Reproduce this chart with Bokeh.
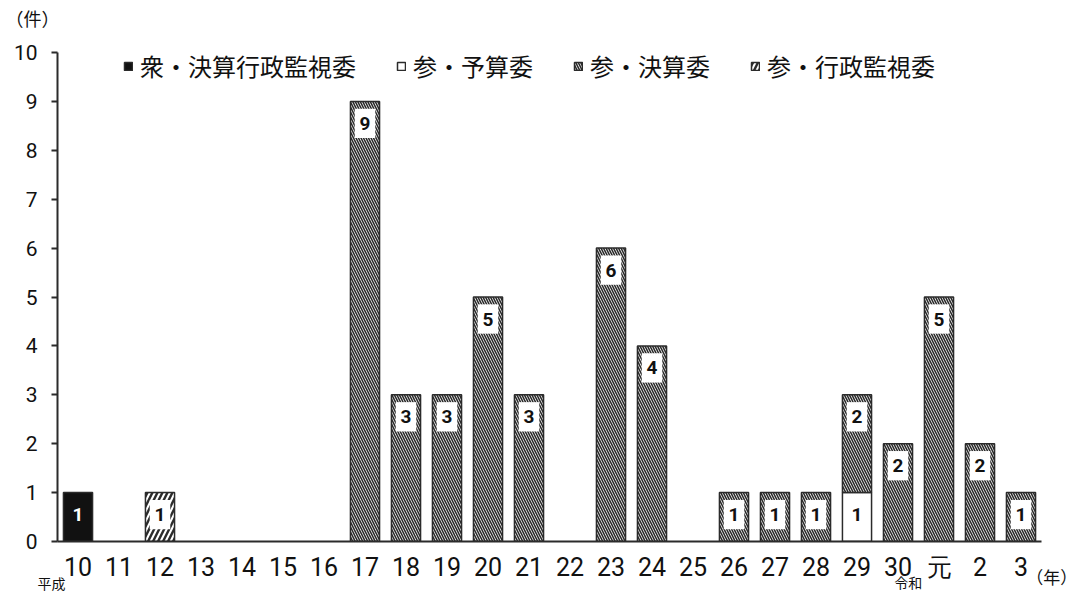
from bokeh.plotting import figure
from bokeh.models import (ColumnDataSource, Legend, LegendItem, Label, Range1d,
                          LinearAxis, FixedTicker)
from bokeh.core.properties import value
from bokeh.embed import file_html
from bokeh.resources import INLINE

# 年（平成10年～令和3年）
years = ["10", "11", "12", "13", "14", "15", "16", "17", "18", "19", "20", "21",
         "22", "23", "24", "25", "26", "27", "28", "29", "30", "元", "2", "3"]

# 件数（委員会別）
shu_kessan_gyosei = [1, 0, 0, 0, 0, 0, 0, 0, 0, 0, 0, 0, 0, 0, 0, 0, 0, 0, 0, 0, 0, 0, 0, 0]
san_yosan = [0, 0, 0, 0, 0, 0, 0, 0, 0, 0, 0, 0, 0, 0, 0, 0, 0, 0, 0, 1, 0, 0, 0, 0]
san_kessan = [0, 0, 0, 0, 0, 0, 0, 9, 3, 3, 5, 3, 0, 6, 4, 0, 1, 1, 1, 2, 2, 5, 2, 1]
san_gyosei = [0, 0, 1, 0, 0, 0, 0, 0, 0, 0, 0, 0, 0, 0, 0, 0, 0, 0, 0, 0, 0, 0, 0, 0]

series_names = ["衆・決算行政監視委", "参・予算委", "参・決算委", "参・行政監視委"]
series_values = [shu_kessan_gyosei, san_yosan, san_kessan, san_gyosei]

CJK = "Noto Sans CJK JP"
NUM = "Roboto"
INK = "#2b2b2b"

styles = [
    dict(fill_color="#111111", hatch_pattern=" ", hatch_scale=1, hatch_weight=1, boxed=False, text_color="white"),
    dict(fill_color="white", hatch_pattern=" ", hatch_scale=1, hatch_weight=1, boxed=False, text_color="#111111"),
    dict(fill_color="white", hatch_pattern="\\", hatch_scale=5, hatch_weight=1.6, boxed=True, text_color="#111111"),
    dict(fill_color="white", hatch_pattern="/", hatch_scale=10, hatch_weight=2.4, boxed=True, text_color="#111111"),
]

positions = list(range(len(years)))

p = figure(width=1070, height=594, x_range=Range1d(-0.5, len(years) - 0.5), y_range=Range1d(0, 10),
           output_backend="svg", toolbar_location=None,
           min_border_left=57, min_border_right=29, min_border_top=52, min_border_bottom=53)
p.outline_line_color = None
p.xgrid.grid_line_color = None
p.ygrid.grid_line_color = None
p.background_fill_color = "white"
p.border_fill_color = "white"

BAR_W = 0.71
bottoms = [0] * len(years)
legend_items = []
box_x, box_y = [], []
lab_x, lab_y, lab_t, lab_c = [], [], [], []

for name, vals, st in zip(series_names, series_values, styles):
    xs, bots, tops = [], [], []
    for xi, v, b in zip(positions, vals, bottoms):
        if v > 0:
            xs.append(xi)
            bots.append(b)
            tops.append(b + v)
            cy = b + v - 0.45 if v > 1 else b + 0.55
            if st["boxed"]:
                box_x.append(xi)
                box_y.append(cy)
            lab_x.append(xi)
            lab_y.append(cy)
            lab_t.append(str(v))
            lab_c.append(st["text_color"])
    src = ColumnDataSource(dict(x=xs, bottom=bots, top=tops))
    r = p.vbar(x="x", bottom="bottom", top="top", width=BAR_W, source=src,
               fill_color=st["fill_color"], line_color=INK, line_width=1.5,
               hatch_pattern=st["hatch_pattern"], hatch_color=INK,
               hatch_scale=st["hatch_scale"], hatch_weight=st["hatch_weight"])
    legend_items.append(LegendItem(label=name, renderers=[r]))
    bottoms = [b + v for b, v in zip(bottoms, vals)]

# white boxes carrying the counts on hatched bars
p.rect(x=box_x, y=box_y, width=0.5, height=0.6, fill_color="white", line_color=None)
p.text(x=lab_x, y=lab_y, text=lab_t, text_color=lab_c,
       text_align="center", text_baseline="middle",
       text_font=value(NUM), text_font_size="19px", text_font_style="bold")

# axes
p.yaxis.ticker = list(range(0, 11))
p.yaxis.axis_line_width = 2
p.yaxis.axis_line_color = INK
p.yaxis.major_tick_line_color = INK
p.yaxis.major_tick_line_width = 2
p.yaxis.major_tick_out = 6
p.yaxis.major_tick_in = 0
p.yaxis.minor_tick_line_color = None
p.yaxis.major_label_text_font = NUM
p.yaxis.major_label_text_font_size = "21px"
p.yaxis.major_label_text_color = "#111111"
p.yaxis.major_label_standoff = 14

p.xaxis.ticker = FixedTicker(ticks=positions)
p.xaxis.major_label_overrides = {i: y for i, y in zip(positions, years)}
p.xaxis.axis_line_width = 2
p.xaxis.axis_line_color = INK
p.xaxis.major_tick_line_color = None
p.xaxis.minor_tick_line_color = None
p.xaxis.major_label_text_font = NUM
p.xaxis.major_label_text_font_size = "25px"
p.xaxis.major_label_text_color = "#111111"
p.xaxis.major_label_standoff = 5

# era mark under the year axis (令和 begins after 30)
reiwa_pos = years.index("30") + 0.25
era_axis = LinearAxis(ticker=FixedTicker(ticks=[reiwa_pos]),
                      major_label_overrides={reiwa_pos: "令和"},
                      axis_line_color=None, major_tick_line_color=None,
                      minor_tick_line_color=None, major_tick_out=0, major_tick_in=0,
                      major_label_standoff=-13,
                      major_label_text_font=CJK, major_label_text_font_size="14px",
                      major_label_text_color="#111111")
p.add_layout(era_axis, "below")

legend = Legend(items=legend_items, orientation="horizontal", location=(66, 458),
                label_text_font=CJK, label_text_font_size="24px", label_text_color="#111111",
                glyph_width=10, glyph_height=10, label_standoff=7, spacing=40,
                padding=0, margin=0, border_line_alpha=0, background_fill_alpha=0)
p.add_layout(legend, "center")

# unit labels and the 平成 mark, kept in side panels so they are not clipped to the frame
notes = [
    ("（件）", -1.77, 10.70, "18px", "above"),
    ("（年）", 23.13, -0.72, "17px", "above"),
    ("平成", -0.99, -0.84, "14px", "right"),
]
for txt, x, y, size, side in notes:
    p.add_layout(Label(x=x, y=y, text=txt, text_font=CJK, text_font_size=size,
                       text_color="#111111", text_align="left", text_baseline="middle"),
                 side)

open("out.html", "w").write(file_html(p, INLINE))
